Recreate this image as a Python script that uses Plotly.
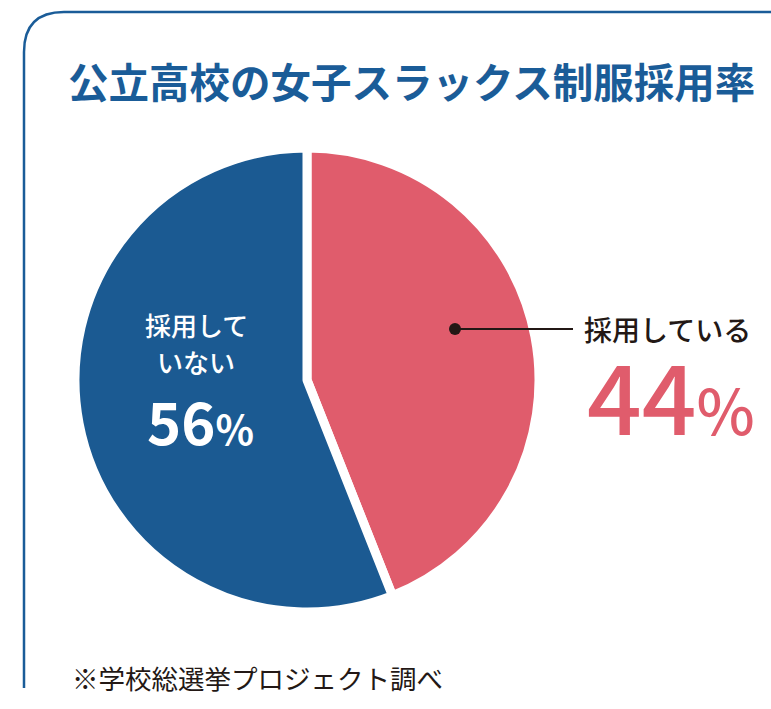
import plotly.graph_objects as go

# ---- data ----
categories = ["採用している", "採用していない"]
values = [44, 56]
colors = ["#e05c6c", "#1b5a92"]
title_text = "公立高校の女子スラックス制服採用率"
source_text = "※学校総選挙プロジェクト調べ"

W, H = 771, 709
def X(px): return px / W
def Y(py): return 1 - py / H

cx, cy, r = 307, 380, 232

fig = go.Figure(go.Pie(
    labels=categories, values=values, sort=False, direction="clockwise", rotation=0,
    marker=dict(colors=colors, line=dict(color="white", width=9)),
    textinfo="none", hoverinfo="skip", showlegend=False,
    domain=dict(x=[X(cx - r), X(cx + r)], y=[Y(cy + r), Y(cy - r)]),
))

JP = "Noto Sans CJK JP"
ann = []
ann.append(dict(x=X(411), y=Y(80), text=title_text, font=dict(family=JP, size=40.5, color="#1a5c98", weight=700)))
ann.append(dict(x=X(196), y=Y(324), text="採用して", height=30, font=dict(family=JP, size=26, color="white", weight=500)))
ann.append(dict(x=X(196), y=Y(361), text="いない", height=30, font=dict(family=JP, size=26, color="white", weight=500)))
ann.append(dict(x=X(200), y=Y(420), text="56<span style='font-size:40px'>%</span>", height=56,
                font=dict(family=JP, size=58, color="white", weight=700)))
ann.append(dict(x=X(667), y=Y(329), text="採用している", height=30, font=dict(family=JP, size=28, color="#231815", weight=500)))
ann.append(dict(x=X(671), y=Y(393), text="44<span style='font-size:62px'>%</span>", height=92,
                font=dict(family=JP, size=96, color="#e05c6c", weight=500)))
ann.append(dict(x=X(70), y=Y(677), xanchor="left", text=source_text, font=dict(family=JP, size=26.5, color="#231815")))
for a in ann:
    a.setdefault("xanchor", "center")
    a.update(xref="paper", yref="paper", yanchor="middle", showarrow=False)

shapes = [
    dict(type="path", xref="paper", yref="paper",
         path=f"M {X(24)},{Y(688)} L {X(24)},{Y(52)} Q {X(24)},{Y(12)} {X(64)},{Y(12)} L {X(771)},{Y(12)}",
         line=dict(color="#1a5c98", width=2.5)),
    dict(type="line", xref="paper", yref="paper", x0=X(455), y0=Y(329), x1=X(573), y1=Y(329),
         line=dict(color="#231815", width=2)),
    dict(type="circle", xref="paper", yref="paper", x0=X(449), y0=Y(323), x1=X(461), y1=Y(335),
         fillcolor="#231815", line=dict(width=0)),
]

fig.update_layout(width=W, height=H, margin=dict(l=0, r=0, t=0, b=0),
                  paper_bgcolor="white", plot_bgcolor="white",
                  annotations=ann, shapes=shapes)
fig.write_html("out.html")
